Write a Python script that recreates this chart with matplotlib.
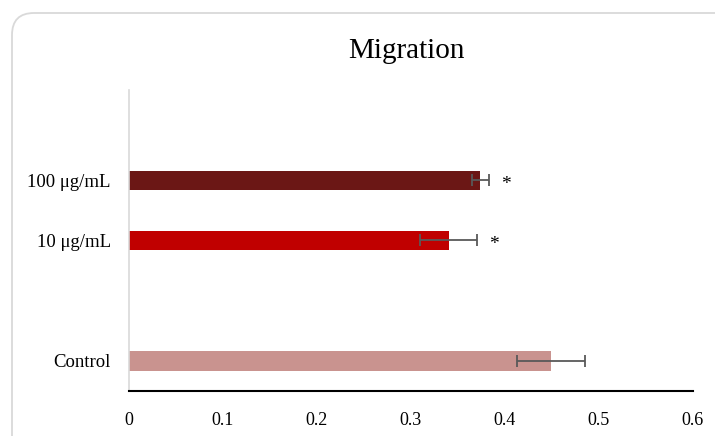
import matplotlib.pyplot as plt
from matplotlib.patches import FancyBboxPatch

# data
labels = ['Control', '', '10 \u03bcg/mL', '100 \u03bcg/mL', '']
values = [0.449, None, 0.340, 0.3735, None]
errors = [0.036, None, 0.030, 0.009, None]
colors = ['#C9938F', 'none', '#C00000', '#6B1715', 'none']
stars = ['', '', '*', '*', '']
xticks = [0, 0.1, 0.2, 0.3, 0.4, 0.5, 0.6]

plt.rcParams['font.family'] = ['Liberation Serif', 'DejaVu Serif']

fig = plt.figure(figsize=(7.15, 4.36), dpi=100)
ax = fig.add_axes([0.1804, 0.1032, 0.7888, 0.6904])

# rounded outer frame, runs off the right and bottom edges like the screenshot
frame = FancyBboxPatch((0.12, -0.4), 7.6, 4.23 + 0.4,
                       boxstyle='round,pad=0,rounding_size=0.22',
                       transform=fig.dpi_scale_trans, facecolor='none',
                       edgecolor='#D9D9D9', linewidth=1.3)
fig.patches.append(frame)

for i, (v, e, c, s) in enumerate(zip(values, errors, colors, stars)):
    if v is None:
        continue
    ax.barh(i, v, height=0.32, color=c, zorder=2)
    ax.errorbar(v, i, xerr=e, fmt='none', ecolor='#595959', elinewidth=1.3,
                capsize=4, capthick=1.3, zorder=3)
    if s:
        ax.text(v + e + 0.018, i - 0.07, s, ha='center', va='center', fontsize=14)

ax.set_xlim(0, 0.6)
ax.set_ylim(-0.5, 4.5)
ax.set_xticks(xticks)
ax.set_xticklabels([f'{t:g}' for t in xticks], fontsize=13)
ax.set_yticks(range(len(labels)))
ax.set_yticklabels(labels, fontsize=13.5)
ax.tick_params(length=0)
ax.tick_params(axis='y', pad=13)
ax.tick_params(axis='x', pad=15)

for sp in ['top', 'right']:
    ax.spines[sp].set_visible(False)
ax.spines['left'].set_color('#D9D9D9')
ax.spines['left'].set_linewidth(1.2)
ax.spines['bottom'].set_color('black')
ax.spines['bottom'].set_linewidth(1.5)

fig.text(0.569, 0.883, 'Migration', ha='center', va='center', fontsize=21)

plt.savefig('out.png', dpi=100)
